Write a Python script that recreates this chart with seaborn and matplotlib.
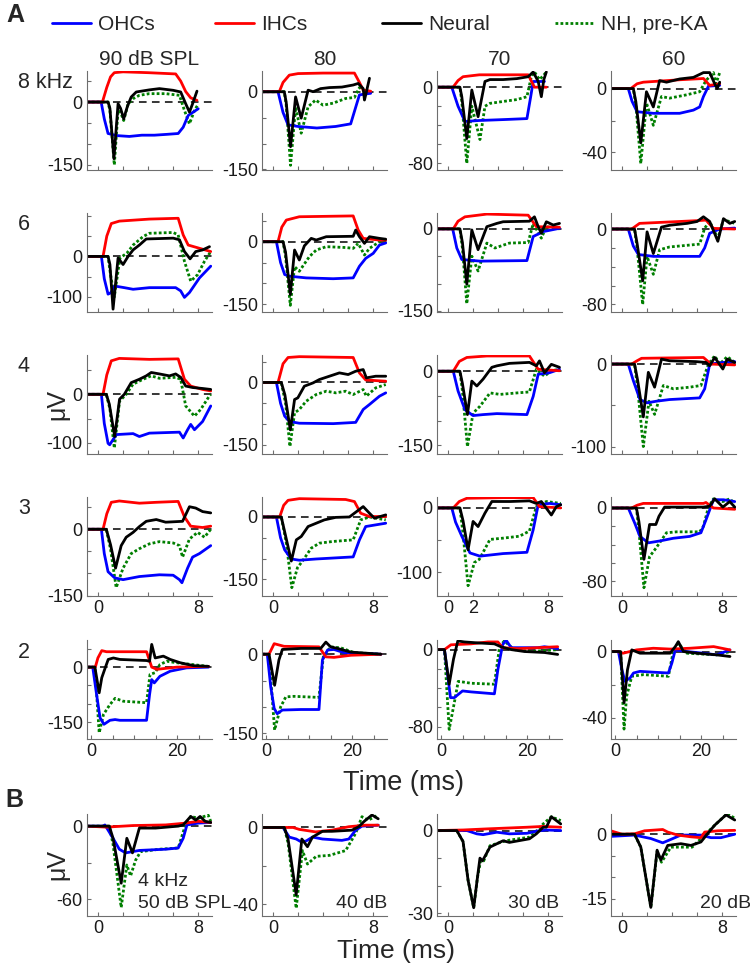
import matplotlib
matplotlib.use("Agg")
import matplotlib.pyplot as plt
from matplotlib.lines import Line2D
import seaborn as sns
import pandas as pd
import numpy as np

# ===================== DATA (time in ms, amplitude in uV) =====================

levels = ["90 dB SPL", "80", "70", "60"]
freqs = ["8 kHz", "6", "4", "3", "2"]
trace_names = ["OHCs", "IHCs", "Neural", "NH, pre-KA"]

# ---- 8 kHz (90, 80, 70, 60 dB) ----
ohc_8k = [
    [(-0.9, 0), (0.25, 0), (0.5, -40), (0.8, -75), (1.5, -80), (2.5, -82), (3.5, -79), (4.5, -79), (5.5, -77), (6.4, -75), (6.8, -60), (7.2, -32), (7.6, -24), (8.0, -16)],
    [(-0.9, 0), (0.4, 0), (0.8, -40), (1.2, -64), (2, -67), (3.5, -70), (5, -67), (6.2, -62), (6.6, -30), (6.9, -6), (7.8, -3)],
    [(-0.9, 0), (0.3, 0), (0.8, -20), (1.35, -36), (2.5, -35), (4.5, -34), (6.3, -33), (6.6, -10), (6.8, 6), (7.7, 6)],
    [(-0.9, 0), (0.5, 0), (0.8, -8), (1.2, -14.5), (2.5, -15.5), (4.6, -15.5), (5.7, -13.5), (6.2, -11.5), (6.5, -5), (6.9, 1.5), (7.8, 2)],
]
ihc_8k = [
    [(-0.9, 0), (0.35, 0), (0.7, 35), (1.0, 60), (1.3, 70), (2, 72), (4, 70), (6.2, 67), (6.6, 50), (7.0, 25), (7.4, 10), (7.9, 4)],
    [(-0.9, 0), (0.5, 0), (0.8, 18), (1.3, 32), (2, 35), (4, 36), (6.5, 36), (6.9, 18), (7.2, 3), (7.8, 1)],
    [(-0.9, 0), (0.4, 0), (0.8, 7), (1.2, 11), (2.5, 13), (6.4, 13), (6.9, 0), (7.85, 0)],
    [(-0.9, 0), (0.7, 0), (1.2, 3), (1.7, 4), (4.6, 5.5), (6.5, 6.3), (7.0, 2), (7.8, 3)],
]
neu_8k = [
    [(-0.9, 0), (0.8, 0), (0.95, -15), (1.27, -135), (1.6, -4), (1.8, -15), (2.05, -40), (2.35, -10), (2.65, 12), (3.05, 24), (4.1, 29), (4.9, 32), (6.0, 28), (6.6, 24), (7.0, -4), (7.3, -24), (7.55, -4), (7.9, 26)],
    [(-0.9, 0), (0.9, 0), (1.05, -20), (1.4, -106), (1.8, -10), (2.25, -51), (2.8, 3), (3.2, 0), (3.8, 6), (4.5, 8), (5.5, 9), (6.4, 13), (6.8, 16), (7.2, 6), (7.3, -16), (7.4, -6), (7.7, 26)],
    [(-0.9, 0), (0.95, 0), (1.1, -10), (1.5, -54), (1.9, -3), (2.4, -31), (2.95, 6), (3.35, 8), (4.4, 8), (5.5, 9), (6.4, 11), (6.8, 16), (7.2, 6), (7.45, -10), (7.65, 8), (7.85, 16)],
    [(-0.9, 0), (0.9, 0), (1.1, -8), (1.5, -34), (1.95, -2), (2.5, -11.5), (3.0, 5), (3.55, 4), (4.6, 6), (5.7, 7), (6.5, 10), (7.0, 10), (7.4, 3), (7.6, 0), (7.8, 4)],
]
nh_8k = [
    [(-0.9, 0), (0.8, 0), (0.95, -20), (1.3, -150), (1.6, -20), (1.8, -25), (2.05, -44), (2.4, -5), (2.8, 8), (3.3, 16), (4.1, 20), (5.4, 20), (6.5, 16), (6.9, -20), (7.3, -52), (7.7, -20), (8.0, -5)],
    [(-0.9, 0), (0.9, 0), (1.05, -25), (1.4, -142), (1.8, -30), (2.25, -80), (2.8, -29), (3.4, -16), (4.0, -26), (4.8, -22), (5.8, -13), (6.5, -11), (6.9, 8), (7.2, 3), (7.8, 0)],
    [(-0.9, 0), (0.95, 0), (1.1, -15), (1.5, -80), (1.9, -20), (2.55, -55), (2.95, -20), (3.35, -17), (4.4, -15), (5.5, -13), (6.3, -10), (6.65, 11), (6.9, 16), (7.3, 8), (7.6, 12), (7.85, 16)],
    [(-0.9, 0), (0.9, 0), (1.1, -10), (1.5, -47), (1.95, -9), (2.5, -23), (3.15, -5), (3.8, -6), (5.1, -4), (6.2, -2), (6.7, 5), (7.3, 10), (7.5, 3), (7.8, 10)],
]

# ---- 6 kHz ----
ohc_6k = [
    [(-0.9, 0), (0.27, 0), (0.5, -55), (0.8, -93), (1.0, -90), (1.33, -73), (2.1, -77), (2.8, -81), (4.1, -77), (6.2, -77), (6.6, -85), (6.9, -101), (7.3, -89), (8.1, -53), (9.0, -24)],
    [(-0.9, 0), (0.27, 0), (0.6, -50), (0.93, -79), (1.33, -83), (2.65, -87), (4.8, -89), (6.4, -87), (6.9, -59), (7.4, -40), (8.0, -28), (8.5, -8), (9.0, -3)],
    [(-0.9, 0), (0.37, 0), (0.7, -35), (1.1, -56), (2.55, -59), (6.3, -58), (6.8, -14), (7.6, -5), (8.9, 1)],
    [(-0.9, 0), (0.5, 0), (0.9, -18), (1.3, -27), (2.5, -29), (6.2, -29), (6.6, -20), (7.0, -4.5), (7.8, 0), (9.0, 1)],
]
ihc_6k = [
    [(-0.9, 0), (0.4, 0), (0.7, 50), (1.06, 81), (1.7, 87), (4.1, 92), (6.4, 94), (6.8, 53), (7.2, 28), (8.1, 20), (9.0, 12)],
    [(-0.9, 0), (0.4, 0), (0.7, 35), (1.06, 52), (2.1, 60), (6.4, 62), (6.8, 28), (7.2, 8), (8.5, 4), (9.0, 4)],
    [(-0.9, 0), (0.42, 0), (0.8, 14), (1.35, 22), (3.1, 27), (6.4, 25), (7.05, 4), (8.9, 3)],
    [(-0.9, 0), (0.77, 0), (1.4, 6), (3, 7), (6.2, 9), (6.7, 9.5), (7.3, 0.7), (9.0, 0)],
]
neu_6k = [
    [(-0.9, 0), (0.8, 0), (0.95, -20), (1.2, -130), (1.6, -4), (2.0, -20), (2.4, 0), (2.8, 16), (3.3, 28), (3.85, 43), (6.0, 45), (6.5, 41), (6.9, 12), (7.35, -6), (7.8, 12), (8.35, 16), (8.9, 24)],
    [(-0.9, 0), (0.8, 0), (1.0, -25), (1.38, -127), (1.72, -20), (2.1, -44), (2.5, -10), (3.05, 8), (3.45, 4), (4.25, 12), (6.4, 13), (6.6, 28), (6.9, 12), (7.3, -4), (7.7, 12), (8.5, 8), (9.0, 6)],
    [(-0.9, 0), (0.95, 0), (1.15, -25), (1.5, -101), (1.9, -2), (2.4, -38), (3.1, 4), (3.9, 10), (4.4, 13), (6.5, 14), (6.9, 22), (7.2, 4), (7.45, -8), (7.85, 13), (8.4, 7), (8.9, 10)],
    [(-0.9, 0), (1.0, 0), (1.2, -15), (1.65, -55), (2.0, -3), (2.5, -26), (3.15, 2), (3.8, 4), (5.2, 6), (6.0, 8), (6.5, 13), (7.0, 8), (7.65, -13), (8.1, 11), (8.6, 6), (9.0, 8)],
]
nh_6k = [
    [(-0.9, 0), (0.8, 0), (1.0, -45), (1.3, -100), (1.75, -4), (2.3, 8), (2.8, 28), (3.6, 49), (4.1, 57), (6.0, 59), (6.4, 53), (6.9, -12), (7.4, -61), (7.95, -45), (8.5, -12), (9.0, 12)],
    [(-0.9, 0), (0.8, 0), (1.0, -35), (1.38, -153), (1.72, -60), (2.1, -71), (2.9, -36), (3.45, -20), (4.25, -12), (5.8, -14), (6.4, -16), (6.8, -4), (7.3, -32), (7.7, -16), (8.5, 0), (9.0, 2)],
    [(-0.9, 0), (0.95, 0), (1.15, -35), (1.5, -137), (1.9, -50), (2.4, -77), (3.1, -26), (3.75, -35), (4.9, -26), (6.4, -25), (6.8, 10), (7.45, -17), (7.85, 4), (8.9, 0)],
    [(-0.9, 0), (1.0, 0), (1.2, -20), (1.65, -80), (2.0, -29), (2.5, -48), (3.0, -22), (3.8, -19), (5.4, -17), (6.2, -16), (6.6, 1), (7.0, 8), (7.65, -10), (8.1, 10), (9.0, 6)],
]

# ---- 4 kHz ----
ohc_4k = [
    [(-0.9, 0), (0.27, 0), (0.5, -60), (0.8, -101), (0.93, -104), (1.46, -83), (2.8, -81), (3.3, -87), (4.1, -80), (6.5, -78), (6.8, -90), (7.15, -73), (7.4, -62), (7.7, -73), (8.35, -56), (9.0, -24)],
    [(-0.9, 0), (0.27, 0), (0.6, -50), (0.93, -81), (1.33, -94), (2.1, -98), (4.8, -99), (6.6, -96), (7.2, -65), (7.7, -53), (8.5, -33), (9.0, -25)],
    [(-0.9, 0), (0.42, 0), (0.8, -40), (1.35, -78), (2.0, -90), (2.8, -88), (3.9, -86), (6.3, -88), (6.8, -51), (7.2, -6), (8.1, -3), (8.9, 4)],
    [(-0.9, 0), (0.5, 0), (0.9, -20), (1.43, -43), (2.0, -47), (2.75, -45), (3.8, -43), (6.2, -41), (6.6, -30), (7.0, 0), (8.1, 2), (9.0, 3)],
]
ihc_4k = [
    [(-0.9, 0), (0.4, 0), (0.7, 40), (1.06, 69), (1.7, 74), (4.1, 72), (6.4, 73), (6.9, 31), (7.4, 17), (8.35, 10), (9.0, 7)],
    [(-0.9, 0), (0.4, 0), (0.8, 45), (1.2, 60), (2.1, 62), (6.4, 60), (6.9, 23), (7.4, 6), (9.0, 3)],
    [(-0.9, 0), (0.42, 0), (0.9, 20), (1.5, 28), (3.1, 31), (6.5, 31), (7.2, 4), (8.9, 1)],
    [(-0.9, 0), (0.77, 0), (1.2, 4), (1.56, 7), (6.5, 8), (7.1, 0), (9.0, -1)],
]
neu_4k = [
    [(-0.9, 0), (0.66, 0), (0.9, -20), (1.33, -87), (1.72, -10), (2.1, 0), (2.65, 24), (3.3, 31), (3.85, 38), (4.25, 45), (4.9, 42), (5.7, 38), (6.2, 42), (6.6, 35), (7.0, 17), (7.55, 14), (8.35, 12), (9.0, 10)],
    [(-0.9, 0), (0.66, 0), (0.95, -30), (1.38, -114), (1.72, -41), (1.98, -37), (2.5, -9), (3.2, -1), (3.7, 7), (4.5, 15), (5.3, 23), (6.0, 19), (6.6, 27), (7.2, 31), (7.45, 11), (8.2, 15), (9.0, 15)],
    [(-0.9, 0), (0.95, 0), (1.15, -25), (1.55, -88), (1.9, -20), (2.3, -30), (2.8, -16), (3.5, 8), (3.9, 11), (4.9, 16), (6.5, 18), (7.05, 11), (7.3, 21), (7.7, -3), (8.25, 14), (8.9, 8)],
    [(-0.9, 0), (1.0, 0), (1.25, -20), (1.7, -64), (2.1, -10), (2.6, -28), (3.15, 6), (3.8, 4), (5.9, 3), (6.7, 2), (7.0, -2), (7.4, 8), (8.05, -6), (8.4, 6), (9.0, 2)],
]
nh_4k = [
    [(-0.9, 0), (0.66, 0), (0.95, -30), (1.3, -111), (1.72, -14), (2.25, 0), (2.8, 21), (3.6, 31), (4.25, 38), (4.9, 33), (6.2, 35), (6.6, 31), (7.0, -24), (7.7, -45), (8.2, -31), (8.9, -3), (9.0, 0)],
    [(-0.9, 0), (0.66, 0), (1.0, -50), (1.35, -154), (1.72, -73), (2.1, -65), (2.65, -45), (3.45, -29), (4.25, -21), (5.0, -25), (5.8, -21), (6.4, -29), (7.2, -17), (7.45, -33), (8.2, -13), (9.0, -5)],
    [(-0.9, 0), (0.95, 0), (1.15, -40), (1.55, -153), (2.0, -85), (2.55, -71), (3.35, -44), (4.15, -47), (5.5, -44), (6.5, -42), (7.05, 4), (7.7, -10), (8.25, 1), (8.9, 4)],
    [(-0.9, 0), (1.0, 0), (1.25, -30), (1.7, -100), (2.15, -45), (2.6, -61), (3.3, -26), (4.1, -30), (5.4, -28), (6.3, -26), (6.9, 0), (7.4, 10), (7.8, 0), (8.4, 9), (9.0, 2)],
]

# ---- 3 kHz ----
ohc_3k = [
    [(-0.9, 0), (0.27, 0), (0.5, -55), (0.8, -96), (1.33, -110), (2.0, -114), (3.3, -107), (4.9, -103), (6.0, -104), (6.5, -114), (6.7, -121), (7.15, -88), (7.55, -63), (8.1, -55), (9.0, -37)],
    [(-0.9, 0), (0.27, 0), (0.6, -50), (0.93, -79), (1.46, -101), (2.1, -104), (3.45, -101), (6.4, -96), (6.9, -55), (7.4, -23), (9.0, -15)],
    [(-0.9, 0), (0.3, 0), (0.6, -22), (1.1, -44), (1.75, -70), (2.55, -75), (4.4, -71), (6.3, -69), (6.8, -34), (7.2, 5), (8.1, 7), (9.0, 5)],
    [(-0.9, 0), (0.5, 0), (1.03, -17), (1.43, -31), (2.1, -38), (3.0, -36), (4.1, -33), (5.4, -31), (6.3, -27), (6.7, -13), (7.3, 9), (8.1, 9), (9.0, 7)],
]
ihc_3k = [
    [(-0.9, 0), (0.4, 0), (0.7, 35), (1.06, 61), (1.7, 64), (3.3, 59), (4.65, 61), (6.4, 63), (6.9, 28), (7.4, 7), (8.35, 4), (9.0, 7)],
    [(-0.9, 0), (0.53, 0), (0.85, 28), (1.2, 40), (2.1, 44), (5.8, 42), (6.5, 37), (7.0, 9), (7.7, 1), (9.0, 1)],
    [(-0.9, 0), (0.42, 0), (0.9, 10), (1.5, 15), (4.4, 16), (6.8, 16), (7.3, 2), (9.0, 0)],
    [(-0.9, 0), (0.77, 0), (1.2, 3), (1.7, 5), (6.5, 5), (6.7, 6), (7.3, 0), (9.0, -1.4)],
]
neu_3k = [
    [(-0.9, 0), (0.66, 0), (1.0, -35), (1.4, -88), (1.85, -37), (2.25, -18), (2.8, -7), (3.3, 6), (3.85, 18), (4.65, 22), (5.4, 16), (6.75, 18), (7.3, 51), (7.8, 48), (8.35, 40), (9.0, 37)],
    [(-0.9, 0), (0.66, 0), (1.0, -45), (1.46, -106), (1.86, -55), (2.25, -47), (2.8, -23), (3.45, -15), (4.1, -7), (5.0, -1), (6.1, 0), (7.2, 25), (7.7, 9), (8.1, -3), (9.0, 5)],
    [(-0.9, 0), (0.95, 0), (1.2, -20), (1.6, -65), (2.0, -21), (2.4, -29), (2.95, -8), (3.5, 10), (5.0, 10), (6.5, 11), (7.05, 7), (7.45, 10), (8.25, -11), (8.65, 2), (9.0, 5)],
    [(-0.9, 0), (1.15, 0), (1.35, -15), (1.75, -56), (2.2, -18), (2.7, -18), (2.95, -9), (3.4, 1), (6.5, 1), (7.0, 2), (7.4, 10), (8.05, 1), (8.6, 7), (9.0, 1)],
]
nh_3k = [
    [(-0.9, 0), (0.66, 0), (1.0, -45), (1.45, -132), (2.0, -88), (2.65, -55), (3.3, -44), (4.1, -33), (4.9, -28), (6.0, -31), (6.5, -37), (6.75, -63), (7.3, -22), (7.95, -7), (8.5, -18), (9.0, 0)],
    [(-0.9, 0), (0.66, 0), (1.05, -60), (1.5, -170), (1.95, -122), (2.35, -106), (3.05, -75), (3.7, -63), (4.75, -59), (6.4, -55), (7.0, -7), (7.7, 0), (9.0, -7)],
    [(-0.9, 0), (0.95, 0), (1.2, -40), (1.6, -121), (2.1, -85), (2.5, -80), (3.35, -49), (4.4, -47), (5.7, -44), (6.5, -36), (7.05, 2), (7.85, 10), (9.0, 7)],
    [(-0.9, 0), (1.15, 0), (1.35, -25), (1.75, -87), (2.2, -53), (2.7, -44), (3.55, -27), (4.35, -26), (6.2, -26), (6.5, -20), (6.9, 1), (7.3, 10), (8.05, 7), (8.6, 10), (9.0, 5)],
]

# ---- 2 kHz (longer tone) ----
ohc_2k = [
    [(-0.9, 0), (0.4, 0), (1.3, -75), (2.1, -138), (3.0, -156), (4.4, -145), (5.6, -143), (6.7, -145), (12.9, -145), (13.6, -75), (14.1, -34), (14.7, -43), (16, -25), (18.4, -11), (22.2, -2), (27.3, 0)],
    [(-0.9, 0), (0.3, 0), (1.1, -62), (1.9, -103), (2.6, -113), (3.8, -106), (8.1, -105), (12.3, -105), (13.1, -11), (14.3, 8), (15.8, 9), (18.1, 3), (26.7, 0)],
    [(-0.9, 0), (0.8, 0), (1.4, -21), (2.2, -50), (3.1, -50), (3.9, -47), (5.0, -43), (7.0, -44), (12.4, -46), (13.2, -21), (14.3, 5), (15.1, 10), (16.3, 2), (22.5, 2), (24, 3), (27.1, 1)],
    [(-0.9, 0), (0.8, 0), (1.6, -11), (2.3, -18), (3.5, -16), (4.3, -13), (5.8, -12), (8.9, -12.5), (12.4, -13), (13.2, -7), (14.0, 1), (16.7, 0), (20.5, -1), (23.6, -2), (26.7, 1)],
]
ihc_2k = [
    [(-0.9, 0), (1.0, 0), (1.6, 25), (2.5, 45), (3.6, 42), (12.9, 42), (14.1, 0), (15.3, -6), (19.9, 0), (27.3, 2)],
    [(-0.9, 0), (0.7, 0), (1.9, 20), (4.2, 15), (12.3, 14), (13.9, -5), (15.8, -6), (19.7, -2), (26.7, 0)],
    [(-0.9, 0), (0.8, 0), (2.3, 5), (7.0, 6), (10.9, 8), (13.2, 8), (14.3, 2), (17.8, 1), (27.1, 3)],
    [(-0.9, 0), (0.5, 0), (1.9, -1), (5.0, 1), (8.9, 2), (12.8, 1.5), (17.4, 2), (22.9, 3), (26.7, 1)],
]
neu_2k = [
    [(-0.9, 0), (0.9, 0), (1.9, -70), (2.5, -29), (3.3, -2), (4.0, 21), (5.2, 25), (6.7, 21), (12.9, 18), (13.6, 16), (14.1, 62), (14.9, 25), (16.8, 30), (18.4, 21), (20.7, 12), (23.8, 4), (27.3, 2)],
    [(-0.9, 0), (0.7, 0), (2.0, -59), (3.0, -11), (3.8, 9), (8.1, 11), (12.7, 11), (13.9, 23), (15.0, 14), (16.6, 11), (19.7, 4), (26.7, 0)],
    [(-0.9, 0), (0.8, 0), (1.9, -36), (2.9, -10), (3.9, 9), (5.4, 8), (8.5, 7), (12.4, 6), (13.9, 3), (16.3, 0), (19.4, -2), (24, -3), (27.1, -5)],
    [(-0.9, 0), (1.3, 0), (2.1, -31), (2.9, -11), (3.9, 1), (5.8, -1), (12.8, -1), (14.0, 3), (14.7, 6), (15.9, 0), (19.0, -1), (23.6, -2), (26.7, -3)],
]
nh_2k = [
    [(-0.9, 0), (0.9, 0), (1.9, -179), (2.9, -129), (4.4, -102), (5.6, -85), (7.5, -93), (12.9, -97), (13.7, -20), (14.9, -15), (16, 7), (17.6, 16), (19.9, 12), (27.3, 2)],
    [(-0.9, 0), (0.7, 0), (2.0, -144), (3.4, -100), (4.6, -81), (6.5, -80), (12.3, -82), (13.3, -5), (15.0, 14), (17.4, 12), (20.5, 3), (26.7, 0)],
    [(-0.9, 0), (0.8, 0), (1.9, -83), (3.1, -55), (4.0, -33), (7.0, -35), (12.4, -36), (13.6, 3), (14.7, 9), (17.0, 0), (20.9, -2), (27.1, 0)],
    [(-0.9, 0), (1.3, 0), (2.1, -47), (2.7, -27), (3.9, -15), (6.6, -14), (12.4, -15), (13.6, 1), (14.7, 5), (16.7, -1), (23.6, -2), (26.7, 0)],
]

# ---- panel B: 4 kHz, 50/40/30/20 dB ----
ohc_b = [
    [(-0.9, 0), (0.4, 0), (0.55, 1), (1.2, -10), (1.7, -19), (2.2, -22), (3.3, -20), (5.4, -19), (6.4, -18), (6.8, -10), (7.1, 1), (8.0, 2.5), (9.0, 3)],
    [(-0.9, 0), (0.8, 0), (1.3, -5), (1.85, -6), (2.25, -7.5), (2.65, -7), (3.15, -5), (3.95, -6), (5.5, -6.7), (6.05, -6), (6.6, -1.4), (7.1, 0.7), (8.4, 1.2)],
    [(-0.9, 0), (1.5, 0), (2.3, -1.2), (2.8, -1.5), (3.9, -0.6), (4.9, -1.2), (6.3, -1), (7.1, -0.2), (7.85, 0.2), (9.0, 0)],
    [(-0.9, -0.5), (1.0, -0.2), (2.3, -1), (3.25, -2), (3.9, -1.2), (4.7, -0.2), (6.3, -0.2), (7.1, -0.8), (7.9, -0.8), (9.0, 0)],
]
ihc_b = [
    [(-0.9, 0), (0.66, -0.8), (2.8, 0.5), (5.4, 1), (7.0, 2.5), (8.0, 4), (9.0, 3)],
    [(-0.9, 0), (1.6, 0), (2.1, -1), (3.4, -2.3), (4.7, -1.4), (6.05, 0.4), (7.4, 1.2), (8.4, 1.2)],
    [(-0.9, 0), (1.2, 0.2), (3.1, 0.6), (6.3, 1.2), (7.6, 1.5), (9.0, 1.2)],
    [(-0.9, 0.8), (0, 0), (1.0, 0.1), (1.8, 0.8), (3.25, 1.1), (3.65, 0.5), (4.45, -0.2), (5.5, -0.6), (6.3, -0.8), (6.6, 0.5), (7.65, 0.8), (9.0, 0.9)],
]
neu_b = [
    [(-0.9, 0), (0.9, 0), (1.2, -10), (1.85, -47), (2.3, -10), (2.6, -18), (2.75, -22), (3.3, -1.6), (4.6, -1.6), (6.4, 0), (6.8, 1), (7.4, 8), (7.8, 5), (8.15, 8), (8.55, 4), (9.0, 3)],
    [(-0.9, 0), (0.9, 0), (1.2, -6), (1.85, -35), (2.3, -6), (2.75, -10), (3.15, -5), (3.95, -2), (4.7, -2), (6.3, -1.4), (6.85, 0.4), (7.25, 3), (7.9, 6.5), (8.4, 4.5)],
    [(-0.9, 0), (0.7, 0), (1.2, -4), (1.6, -18), (2.05, -28), (2.35, -17), (2.55, -10), (2.75, -11), (3.35, -6), (4.4, -3.7), (4.9, -4.3), (6.5, -3), (7.05, -1.2), (7.6, 1.2), (7.85, 1.2), (8.25, 5), (9.0, 2.4)],
    [(-0.9, 0), (1.0, 0), (1.5, -3), (2.3, -17), (2.8, -3.7), (3.1, -6), (3.65, -2.6), (4.7, -2.2), (5.5, -2.6), (6.3, -1.8), (6.85, 0.2), (7.4, 2.1), (8.3, 4.5), (9.0, 3.3)],
]
nh_b = [
    [(-0.9, 0), (0.9, 0), (1.2, -15), (1.85, -67), (2.3, -32), (2.6, -41), (3.0, -28), (3.4, -21), (4.9, -19), (6.4, -18), (6.9, -1.6), (7.4, 8), (8.0, 6.5), (8.8, 9), (9.0, 4)],
    [(-0.9, 0), (0.9, 0), (1.2, -8), (1.85, -42), (2.35, -12), (2.75, -19), (3.45, -15), (4.5, -14.5), (5.8, -12), (6.6, -3), (7.1, 5.6), (7.6, 3.8), (8.4, 6.5)],
    [(-0.9, 0), (0.7, 0), (1.2, -4), (1.6, -18), (2.05, -28), (2.35, -17), (2.6, -11), (2.85, -11), (3.35, -5.5), (4.6, -3.7), (6.5, -2.4), (7.1, 0), (7.6, 2.4), (8.25, 5), (9.0, 3.6)],
    [(-0.9, 0), (1.0, 0), (1.5, -3), (2.3, -17), (2.8, -4), (3.15, -6.5), (3.9, -3), (5.6, -3), (6.45, -0.6), (7.55, 2.5), (8.4, 4.8), (9.0, 3.7)],
]

# y limits / tick step / labelled bottom tick for each panel
ylims_rows = [
    [(-162, 74), (-151, 40), (-87, 17), (-51, 11)],
    [(-137, 107), (-169, 69), (-152, 29), (-88, 17)],
    [(-123, 81), (-172, 66), (-168, 33), (-109, 11)],
    [(-151, 73), (-190, 48), (-137, 17), (-96, 12)],
    [(-196, 74), (-161, 27), (-93, 10), (-53, 7)],
]
ysteps_rows = [[50, 50, 20, 20], [50, 50, 50, 20], [50, 50, 50, 50], [50, 50, 50, 20], [50, 50, 20, 20]]
ylabels_rows = [[-150, -150, -80, -40], [-100, -150, -150, -80], [-100, -150, -150, -100],
                [-150, -150, -100, -80], [-150, -150, -80, -40]]
ylims_b = [(-74, 10), (-46, 7), (-31, 6), (-19, 4.7)]
ysteps_b = [30, 20, 10, 5]
ylabels_b = [-60, -40, -30, -15]

# ===================== STYLE =====================

sns.set_style("ticks")
plt.rcParams["font.family"] = ["Liberation Sans", "DejaVu Sans"]
plt.rcParams["axes.unicode_minus"] = False

palette = {"OHCs": "#0000ff", "IHCs": "#ff0000", "Neural": "#000000", "NH, pre-KA": "#007f00"}
dashes = {"OHCs": "", "IHCs": "", "Neural": "", "NH, pre-KA": (1, 0.8)}
draw_order = ["NH, pre-KA", "OHCs", "IHCs", "Neural"]

W, H = 750, 965
col_left = [87, 262, 437, 611]
row_top = [71, 213, 355, 497, 640]
AX_W = 125


def panel_frame(ohc, ihc, neu, nh):
    parts = []
    for name, pts in zip(trace_names, (ohc, ihc, neu, nh)):
        d = pd.DataFrame(pts, columns=["t", "v"])
        d["trace"] = name
        parts.append(d)
    return pd.concat(parts, ignore_index=True)


def draw_panel(ax, df, ylim, step, ylab, xlim, xticks, xlabels):
    ax.axhline(0, color="k", lw=1.1, ls=(0, (5, 3.5)), zorder=1)
    sns.lineplot(data=df, x="t", y="v", hue="trace", style="trace",
                 hue_order=draw_order, style_order=draw_order,
                 palette=palette, dashes=dashes, estimator=None, sort=False,
                 legend=False, lw=2, ax=ax)
    ax.set_xlabel("")
    ax.set_ylabel("")
    ax.set_xlim(*xlim)
    ax.set_ylim(*ylim)
    yt = np.arange(np.ceil(ylim[0] / step) * step, ylim[1] + 1e-6, step)
    ax.set_yticks(yt)
    ax.set_yticklabels(["0" if v == 0 else (f"{int(ylab)}" if v == ylab else "") for v in yt])
    ax.set_xticks(xticks)
    ax.set_xticklabels(xlabels)
    sns.despine(ax=ax)
    for s in ("left", "bottom"):
        ax.spines[s].set_color("#6e6e6e")
        ax.spines[s].set_linewidth(0.8)
    ax.tick_params(direction="in", length=3, width=0.8, color="#6e6e6e",
                   labelsize=13, pad=3, labelcolor="#1a1a1a")
    ax.patch.set_alpha(0)


def add_ax(fig, left, top, h=99):
    return fig.add_axes([left / W, 1 - (top + h) / H, AX_W / W, h / H])


# ===================== FIGURE =====================

fig = plt.figure(figsize=(W / 100, H / 100), dpi=100)

rows = [
    (ohc_8k, ihc_8k, neu_8k, nh_8k),
    (ohc_6k, ihc_6k, neu_6k, nh_6k),
    (ohc_4k, ihc_4k, neu_4k, nh_4k),
    (ohc_3k, ihc_3k, neu_3k, nh_3k),
    (ohc_2k, ihc_2k, neu_2k, nh_2k),
]

for r, (ohc, ihc, neu, nh) in enumerate(rows):
    for c in range(4):
        ax = add_ax(fig, col_left[c], row_top[r])
        df = panel_frame(ohc[c], ihc[c], neu[c], nh[c])
        if r < 4:
            xlim = (-0.88, 9.1)
            xticks = [0, 2, 4, 6, 8]
            if r < 3:
                xl = [""] * 5
            elif c == 2:
                xl = ["0", "2", "", "", "8"]
            else:
                xl = ["0", "", "", "", "8"]
        else:
            xlim = (-0.93, 28.1)
            xticks = [0, 5, 10, 15, 20, 25]
            xl = ["0", "", "", "", "20", ""]
        draw_panel(ax, df, ylims_rows[r][c], ysteps_rows[r][c], ylabels_rows[r][c],
                   xlim, xticks, xl)
        if r == 0:
            ax.set_title(levels[c], fontsize=15, pad=4)
    fig.text(18 / W, 1 - (row_top[r] + 12) / H, freqs[r], fontsize=15.5,
             ha="left", va="center")

for c in range(4):
    ax = add_ax(fig, col_left[c], 814, h=102)
    df = panel_frame(ohc_b[c], ihc_b[c], neu_b[c], nh_b[c])
    draw_panel(ax, df, ylims_b[c], ysteps_b[c], ylabels_b[c], (-0.88, 9.1),
               [0, 2, 4, 6, 8], ["0", "", "", "", "8"])

# texts inside panel B
fig.text(138 / W, 1 - 882 / H, "4 kHz", fontsize=14, ha="left", va="center")
fig.text(138 / W, 1 - 903 / H, "50 dB SPL", fontsize=14, ha="left", va="center")
fig.text(336 / W, 1 - 903 / H, "40 dB", fontsize=14, ha="left", va="center")
fig.text(508 / W, 1 - 903 / H, "30 dB", fontsize=14, ha="left", va="center")
fig.text(700 / W, 1 - 903 / H, "20 dB", fontsize=14, ha="left", va="center")

# axis labels
fig.text(404 / W, 1 - 790 / H, "Time (ms)", fontsize=19.5, ha="center", va="baseline")
fig.text(396 / W, 1 - 958 / H, "Time (ms)", fontsize=19, ha="center", va="baseline")
fig.text(57 / W, 1 - 405 / H, "μV", fontsize=18, rotation=90, ha="center", va="center")
fig.text(57 / W, 1 - 865 / H, "μV", fontsize=18, rotation=90, ha="center", va="center")

# panel letters
fig.text(15 / W, 1 - 15 / H, "A", fontsize=18, fontweight="bold", ha="center", va="center")
fig.text(14 / W, 1 - 800 / H, "B", fontsize=18, fontweight="bold", ha="center", va="center")

# legend, one entry at a time so each sits where the original puts it
legend_x = [52, 215, 382, 555]
for name, x in zip(trace_names, legend_x):
    if name == "NH, pre-KA":
        h = Line2D([], [], color=palette[name], lw=2, dashes=(1, 0.8))
    else:
        h = Line2D([], [], color=palette[name], lw=2)
    fig.legend(handles=[h], labels=[name], loc="center left",
               bbox_to_anchor=(x / W, 1 - 25 / H), frameon=False, fontsize=15,
               handlelength=1.85, handletextpad=0.35, borderpad=0, borderaxespad=0)

fig.savefig("out.png", dpi=100)
plt.close("all")
